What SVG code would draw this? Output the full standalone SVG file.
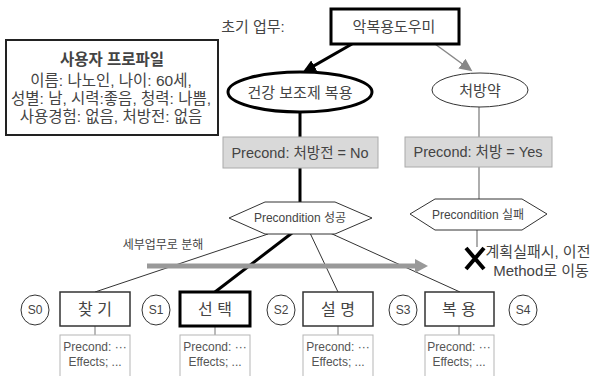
<svg xmlns="http://www.w3.org/2000/svg" width="595" height="376" viewBox="0 0 595 376">
<defs>
<style>
text{font-family:"Liberation Sans","Noto Sans CJK KR",sans-serif;fill:#444;text-anchor:middle;dominant-baseline:central}
.kr{font-size:15px}
.pf{font-size:15.5px}
.hex{fill:#fff;stroke:#333;stroke-width:1}
.pc{fill:#d9d9d9;stroke:#aaa;stroke-width:1}
.task{fill:#fff;stroke:#333;stroke-width:1.5}
.st{fill:#fff;stroke:#333;stroke-width:1}
.eff{fill:#fff;stroke:#b5b5b5;stroke-width:1}
.efft{font-size:12px;fill:#555}
.thin{stroke:#333;stroke-width:1;fill:none}
</style>
<marker id="ahB" markerUnits="userSpaceOnUse" markerWidth="14" markerHeight="12" refX="10" refY="6" orient="auto"><path d="M0,0 L13,6 L0,12 z" fill="#000"/></marker>
<marker id="ahG" markerUnits="userSpaceOnUse" markerWidth="14" markerHeight="12" refX="10" refY="6" orient="auto"><path d="M0,0 L13,6 L0,12 z" fill="#888"/></marker>
</defs>
<rect width="595" height="376" fill="#fff"/>

<g id="connectors">
<line x1="352" y1="44" x2="305.5" y2="70.6" stroke="#000" stroke-width="3" marker-end="url(#ahB)"/>
<line x1="435" y1="44" x2="470" y2="69.5" stroke="#888" stroke-width="1.5" marker-end="url(#ahG)"/>
<line x1="300" y1="112" x2="300" y2="137" stroke="#000" stroke-width="3"/>
<line x1="300" y1="168" x2="300" y2="202" stroke="#000" stroke-width="3"/>
<line x1="479" y1="107" x2="479" y2="137" stroke="#777" stroke-width="1.2"/>
<line x1="479" y1="167" x2="479" y2="199" stroke="#777" stroke-width="1.2"/>
<line x1="477" y1="230" x2="477" y2="247" stroke="#777" stroke-width="1.2"/>
<line x1="268" y1="234" x2="95" y2="292" class="thin"/>
<line x1="292" y1="233" x2="215" y2="292" stroke="#000" stroke-width="3"/>
<line x1="310" y1="233" x2="338" y2="292" class="thin"/>
<line x1="330" y1="233" x2="460" y2="292" class="thin"/>
<line x1="147" y1="266" x2="418" y2="266" stroke="#999" stroke-width="5"/>
<polygon points="415,259 428,266 415,273" fill="#999"/>
<line x1="95" y1="326" x2="95" y2="335" stroke="#777" stroke-width="1"/>
<line x1="215" y1="326" x2="215" y2="335" stroke="#777" stroke-width="1"/>
<line x1="338" y1="326" x2="338" y2="335" stroke="#777" stroke-width="1"/>
<line x1="459" y1="326" x2="459" y2="335" stroke="#777" stroke-width="1"/>
</g>

<g id="label-initial"><text x="253" y="26" class="kr">초기 업무:</text></g>

<g id="root">
<rect x="331" y="9" width="128" height="35" fill="#fff" stroke="#000" stroke-width="3"/>
<text x="394" y="26" class="kr">악복용도우미</text>
</g>

<g id="profile">
<rect x="6" y="40" width="212" height="95" fill="#fff" stroke="#222" stroke-width="2"/>
<text x="112" y="59" class="pf" font-weight="bold" fill="#333">사용자 프로파일</text>
<text x="111" y="80" class="pf">이름: 나노인, 나이: 60세,</text>
<text x="111" y="98" class="pf">성별: 남, 시력:좋음, 청력: 나쁨,</text>
<text x="111" y="116" class="pf">사용경험: 없음, 처방전: 없음</text>
</g>

<g id="method-health">
<ellipse cx="300" cy="92" rx="72" ry="20" fill="#fff" stroke="#000" stroke-width="3"/>
<text x="300" y="92" class="kr">건강 보조제 복용</text>
</g>

<g id="method-rx">
<ellipse cx="480" cy="90" rx="48" ry="17" fill="#fff" stroke="#333" stroke-width="1"/>
<text x="480" y="90" class="kr">처방약</text>
</g>

<g id="precond-1">
<rect x="223" y="137" width="155" height="31" class="pc"/>
<text x="300" y="152.5" font-size="14.5">Precond: 처방전 = No</text>
</g>

<g id="precond-2">
<rect x="405" y="137" width="147" height="30" class="pc"/>
<text x="478" y="152" font-size="14.5">Precond: 처방 = Yes</text>
</g>

<g id="hex-success">
<polygon points="229,218 265,202 335,202 372,218 335,234 265,234" class="hex"/>
<text x="300" y="218" font-size="12">Precondition 성공</text>
</g>

<g id="hex-fail">
<polygon points="410,214 435,199 522,199 547,214 522,230 435,230" class="hex"/>
<text x="478" y="214.5" font-size="12">Precondition 실패</text>
</g>

<g id="fail-mark">
<path d="M466,248 L484,269 M484,248 L466,269" stroke="#000" stroke-width="4" fill="none"/>
<text x="538" y="251" class="kr" fill="#333">계획실패시, 이전</text>
<text x="541" y="270" class="kr" fill="#333">Method로 이동</text>
</g>

<g id="label-decompose"><text x="163" y="245" font-size="12">세부업무로 분해</text></g>

<g id="s0"><ellipse cx="35" cy="310" rx="14" ry="15" class="st"/><text x="35" y="310" font-size="12">S0</text></g>
<g id="s1"><ellipse cx="156" cy="310" rx="14" ry="15" class="st"/><text x="156" y="310" font-size="12">S1</text></g>
<g id="s2"><ellipse cx="281" cy="310" rx="14" ry="15" class="st"/><text x="281" y="310" font-size="12">S2</text></g>
<g id="s3"><ellipse cx="403" cy="310" rx="14" ry="15" class="st"/><text x="403" y="310" font-size="12">S3</text></g>
<g id="s4"><ellipse cx="523" cy="310" rx="14" ry="15" class="st"/><text x="523" y="310" font-size="12">S4</text></g>

<g id="task-find">
<rect x="60" y="292" width="70" height="34" class="task"/>
<text x="95" y="309" font-size="16">찾 기</text>
</g>
<g id="task-select">
<rect x="180" y="292" width="70" height="34" fill="#fff" stroke="#000" stroke-width="3"/>
<text x="215" y="309" font-size="16">선 택</text>
</g>
<g id="task-explain">
<rect x="303" y="292" width="70" height="34" class="task"/>
<text x="338" y="309" font-size="16">설 명</text>
</g>
<g id="task-take">
<rect x="425" y="292" width="69" height="34" class="task"/>
<text x="459" y="309" font-size="16" fill="#666">복 용</text>
</g>

<g id="eff-1"><rect x="60" y="335" width="70" height="45" class="eff"/><text x="95" y="347" class="efft">Precond: ···</text><text x="95" y="362" class="efft">Effects; ...</text></g>
<g id="eff-2"><rect x="180" y="335" width="70" height="45" class="eff"/><text x="215" y="347" class="efft">Precond: ···</text><text x="215" y="362" class="efft">Effects; ...</text></g>
<g id="eff-3"><rect x="303" y="335" width="70" height="45" class="eff"/><text x="338" y="347" class="efft">Precond: ···</text><text x="338" y="362" class="efft">Effects; ...</text></g>
<g id="eff-4"><rect x="425" y="335" width="69" height="45" class="eff"/><text x="459" y="347" class="efft">Precond: ···</text><text x="459" y="362" class="efft">Effects; ...</text></g>
</svg>
